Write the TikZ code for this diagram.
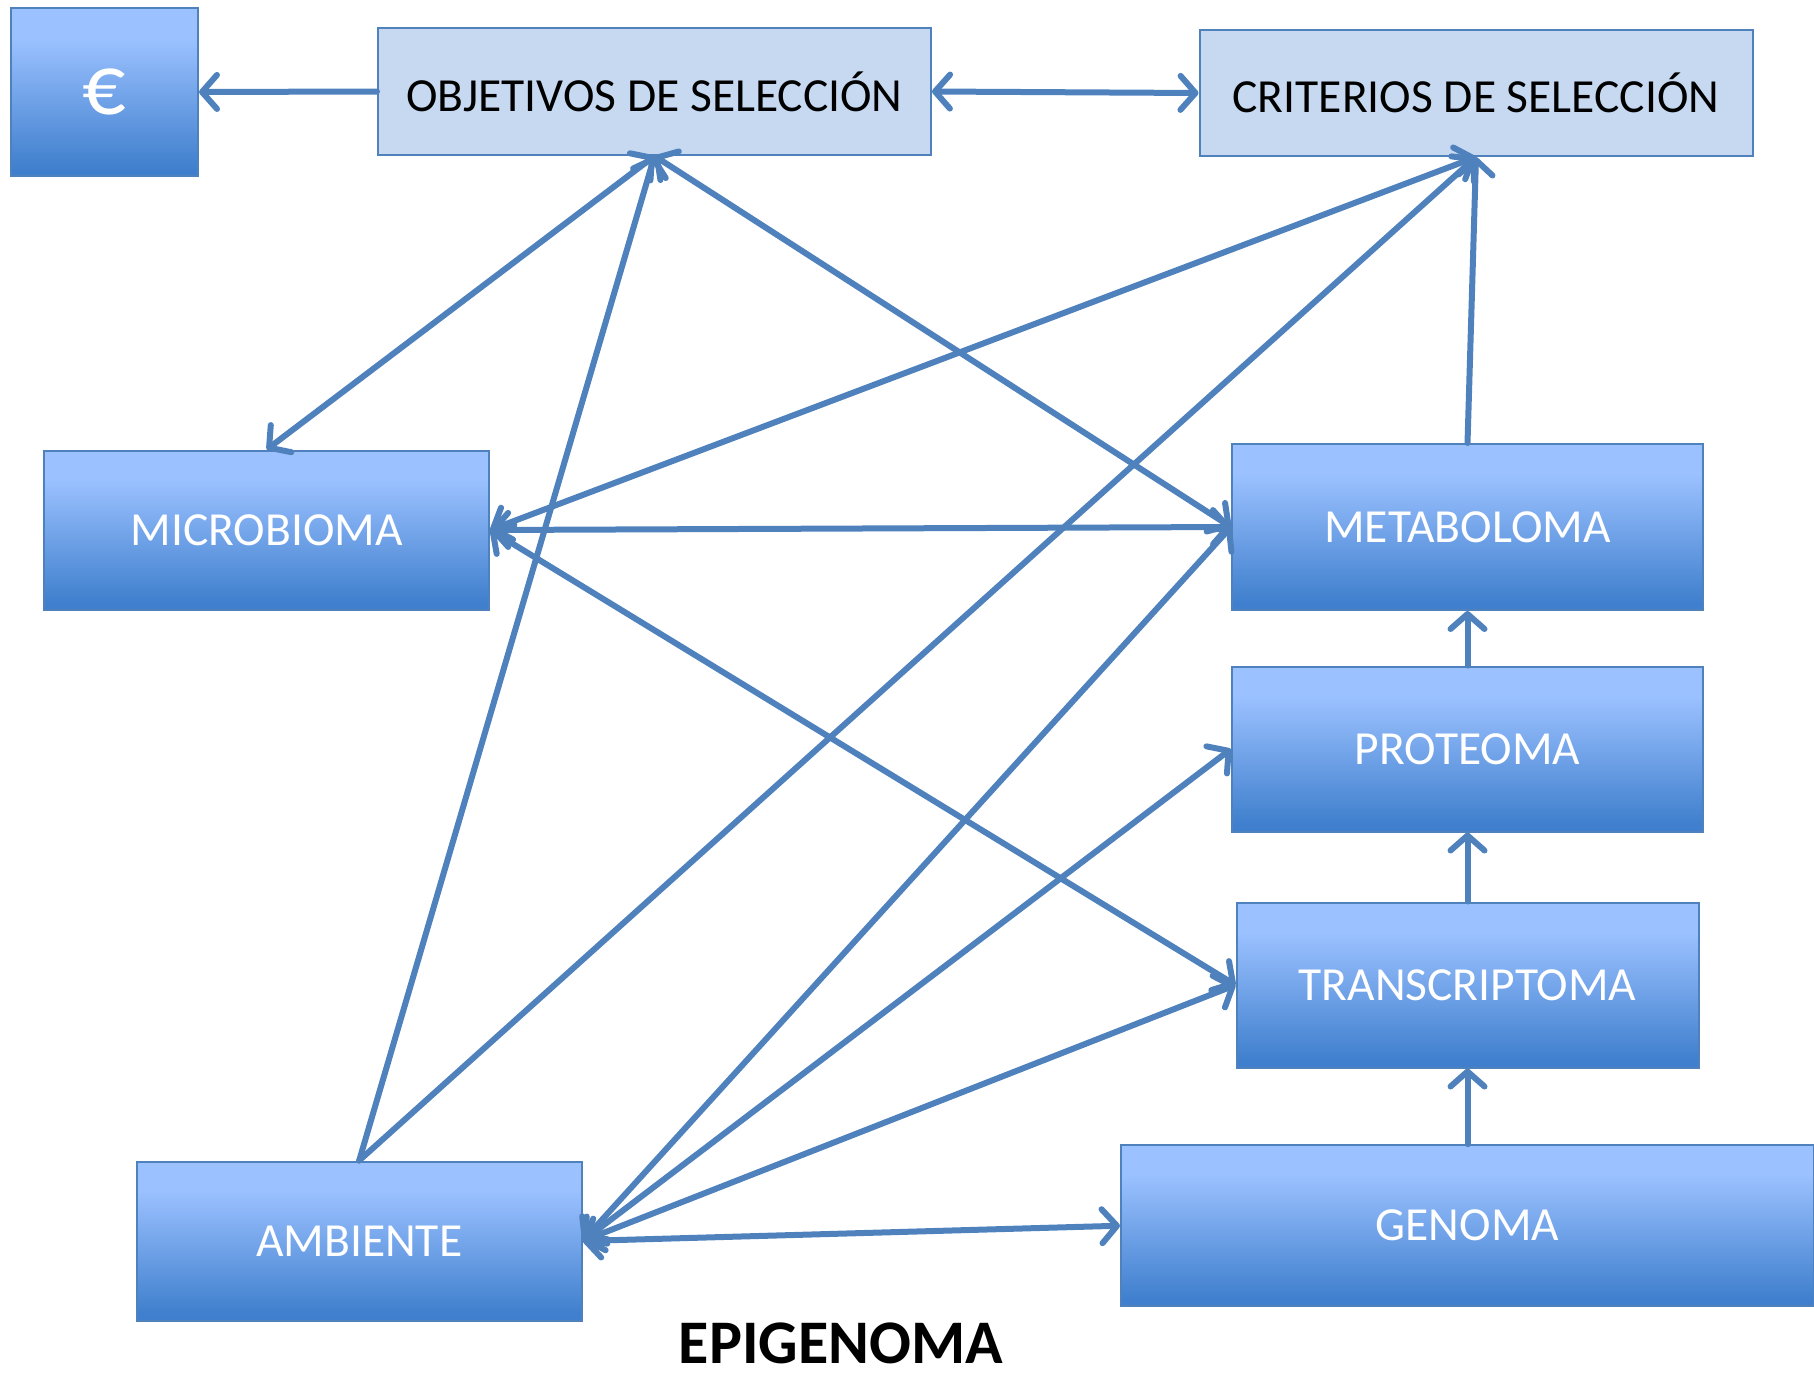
\documentclass[tikz,border=0pt]{standalone}
\usepackage{fontspec}
\setmainfont{Carlito}
\usetikzlibrary{arrows.meta}

\definecolor{edge}{HTML}{4F81BD}
\definecolor{boxtop}{HTML}{9BC1FF}
\definecolor{boxbot}{HTML}{3F7FCD}
\definecolor{pale}{HTML}{C6D9F1}

% vertical fill of the omics boxes: light band on top, darker towards the bottom
\pgfdeclareverticalshading{omicfill}{100bp}{%
  color(0bp)=(boxbot); color(25bp)=(boxbot); color(27bp)=(boxbot);
  color(66bp)=(boxtop); color(75bp)=(boxtop); color(100bp)=(boxtop)}

\tikzset{
  omic/.style={draw=edge, line width=2pt, shading=omicfill, text=white,
    font=\fontsize{47.5}{56}\selectfont, inner sep=0pt},
  goal/.style={draw=edge, line width=2pt, fill=pale, text=black,
    font=\fontsize{47.5}{56}\selectfont, inner sep=0pt},
  link/.style={draw=edge, line width=6pt, line cap=round,
    >={Straight Barb[length=15pt,width=34pt,round]}},
}

\begin{document}
\begin{tikzpicture}[x=1pt,y=-1pt]
\useasboundingbox (0,0) rectangle (1814,1373);

% boxes
\node[omic, minimum width=187pt, minimum height=168pt] (euro) at (104.5,92)
  {\fontsize{86}{96}\selectfont €};
\node[goal, minimum width=553pt, minimum height=127pt] (obj) at (654.5,91.5)
  {OBJETIVOS DE SELECCIÓN};
\node[goal, minimum width=553pt, minimum height=126pt] (crit) at (1476,93)
  {CRITERIOS DE SELECCIÓN};
\node[omic, minimum width=445pt, minimum height=159pt] (micro) at (266.7,530)
  {MICROBIOMA};
\node[omic, minimum width=471pt, minimum height=166pt] (metab) at (1467.5,527)
  {METABOLOMA};
\node[omic, minimum width=471pt, minimum height=165pt] (prot) at (1467.5,749)
  {PROTEOMA};
\node[omic, minimum width=462pt, minimum height=165pt] (trans) at (1467.5,985)
  {TRANSCRIPTOMA};
\node[omic, minimum width=693pt, minimum height=161pt] (gen) at (1467.5,1225.7)
  {GENOMA};
\node[omic, minimum width=445pt, minimum height=159pt] (amb) at (359.2,1241)
  {AMBIENTE};
\node[font=\fontsize{62}{70}\selectfont\bfseries, inner sep=0pt, anchor=base]
  (epi) at (841,1363) {EPIGENOMA};

% connectors
\draw[link,->] (obj.west) -- (euro.east);
\draw[link,<->] (obj.east) -- (crit.west);
\draw[link,<->] (micro.north) -- (obj.south);
\draw[link,->] (amb.north) -- (obj.south);
\draw[link,<->] (obj.south) -- (metab.west);
\draw[link,<->] (micro.east) -- (crit.south);
\draw[link,->] (amb.north) -- (crit.south);
\draw[link,->] (metab.north) -- (crit.south);
\draw[link,<->] (micro.east) -- (metab.west);
\draw[link,<->] (micro.east) -- (trans.west);
\draw[link,<->] (amb.east) -- (metab.west);
\draw[link,<->] (amb.east) -- (prot.west);
\draw[link,<->] (amb.east) -- (trans.west);
\draw[link,<->] (amb.east) -- (gen.west);
\draw[link,->] (prot.north) -- (metab.south);
\draw[link,->] (trans.north) -- (prot.south);
\draw[link,->] (gen.north) -- (trans.south);
\end{tikzpicture}
\end{document}
